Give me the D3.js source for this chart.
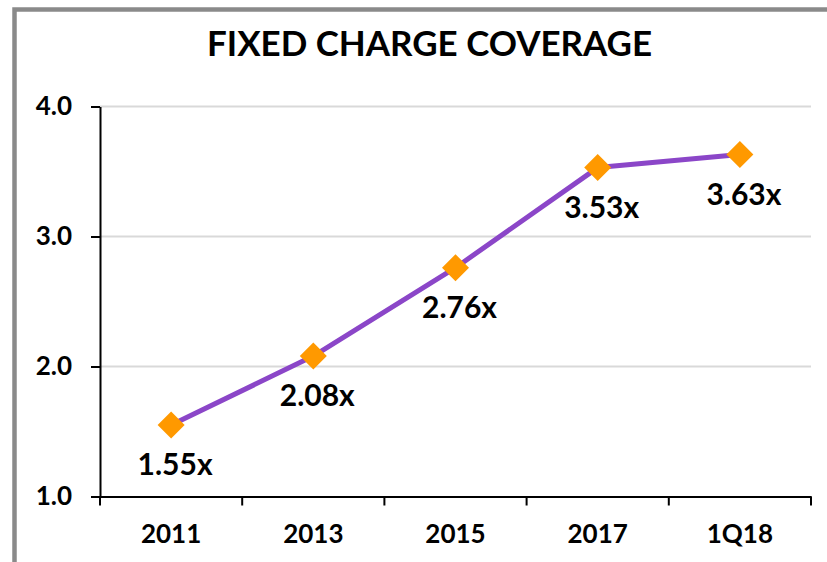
<!DOCTYPE html>
<html>
<head>
<meta charset="utf-8">
<script src="https://cdn.jsdelivr.net/npm/d3@7"></script>
<style>
  html, body { margin: 0; padding: 0; background: #ffffff; }
  svg { display: block; }
  text { font-family: Lato, "Open Sans", sans-serif; fill: #000; }
</style>
</head>
<body>
<svg id="chart" width="827" height="562"></svg>
<script>
const title = "FIXED CHARGE COVERAGE";
const categories = ["2011", "2013", "2015", "2017", "1Q18"];
const coverage = [1.55, 2.08, 2.76, 3.53, 3.63];
const yTicks = [1.0, 2.0, 3.0, 4.0];
const yDomain = [1.0, 4.0];

const W = 827, H = 562;
const margin = { left: 100, right: 16, top: 106.5, bottom: 65.5 };
const svg = d3.select("#chart");

// frame (grey border on top and left)
svg.append("path")
  .attr("d", `M14.5,${H} L14.5,9.5 L${W},9.5`)
  .attr("fill", "none")
  .attr("stroke", "#8a8a8a")
  .attr("stroke-width", 4.5);

const x = d3.scaleBand().domain(categories).range([margin.left, W - margin.right]).padding(0);
const y = d3.scaleLinear().domain(yDomain).range([H - margin.bottom, margin.top]);

// title
svg.append("text")
  .attr("x", 429.5).attr("y", 56)
  .attr("text-anchor", "middle")
  .attr("font-size", 35).attr("font-weight", "bold")
  .attr("textLength", 445).attr("lengthAdjust", "spacingAndGlyphs")
  .text(title);

// gridlines
svg.append("g").selectAll("line")
  .data(yTicks.filter(d => d > yDomain[0]))
  .join("line")
  .attr("x1", margin.left).attr("x2", W - margin.right)
  .attr("y1", d => y(d)).attr("y2", d => y(d))
  .attr("stroke", "#d9d9d9").attr("stroke-width", 2);

// y axis
const yAxis = svg.append("g")
  .attr("transform", `translate(${margin.left},0)`)
  .call(d3.axisLeft(y).tickValues(yTicks).tickFormat(d3.format(".1f")).tickSizeInner(9).tickSizeOuter(0).tickPadding(19));
yAxis.select(".domain").attr("stroke", "#000").attr("stroke-width", 2);
yAxis.selectAll(".tick line").attr("stroke", "#000").attr("stroke-width", 2);
yAxis.selectAll(".tick text")
  .attr("font-size", 26).attr("font-weight", "bold")
  .attr("font-family", "Lato, sans-serif").attr("fill", "#000");

// x axis
const xAxis = svg.append("g")
  .attr("transform", `translate(0,${H - margin.bottom})`)
  .call(d3.axisBottom(x).tickSize(0).tickPadding(28));
xAxis.select(".domain").attr("stroke", "#000").attr("stroke-width", 2);
xAxis.selectAll(".tick text")
  .attr("font-size", 26).attr("font-weight", "bold")
  .attr("font-family", "Lato, sans-serif").attr("fill", "#000")
  .attr("dy", "0.71em");
// category boundary tick marks
const boundaries = categories.map(c => x(c)).concat([x(categories[categories.length - 1]) + x.bandwidth()]);
svg.append("g").selectAll("line")
  .data(boundaries)
  .join("line")
  .attr("x1", d => d).attr("x2", d => d)
  .attr("y1", H - margin.bottom).attr("y2", H - margin.bottom + 9)
  .attr("stroke", "#000").attr("stroke-width", 2);

const cx = (d, i) => x(categories[i]) + x.bandwidth() / 2;

// line
svg.append("path")
  .datum(coverage)
  .attr("d", d3.line().x((d, i) => cx(d, i)).y(d => y(d)))
  .attr("fill", "none")
  .attr("stroke", "#8b46c8")
  .attr("stroke-width", 5)
  .attr("stroke-linejoin", "round");

// diamond markers
svg.append("g").selectAll("path")
  .data(coverage)
  .join("path")
  .attr("transform", (d, i) => `translate(${cx(d, i)},${y(d)})`)
  .attr("d", "M0,-13.5 L13.5,0 L0,13.5 L-13.5,0 Z")
  .attr("fill", "#ff9900");

// data labels
svg.append("g").selectAll("text")
  .data(coverage)
  .join("text")
  .attr("x", (d, i) => cx(d, i) + 4)
  .attr("y", d => y(d) + 50)
  .attr("text-anchor", "middle")
  .attr("font-size", 30).attr("font-weight", "bold")
  .text(d => d.toFixed(2) + "x");
</script>
</body>
</html>
